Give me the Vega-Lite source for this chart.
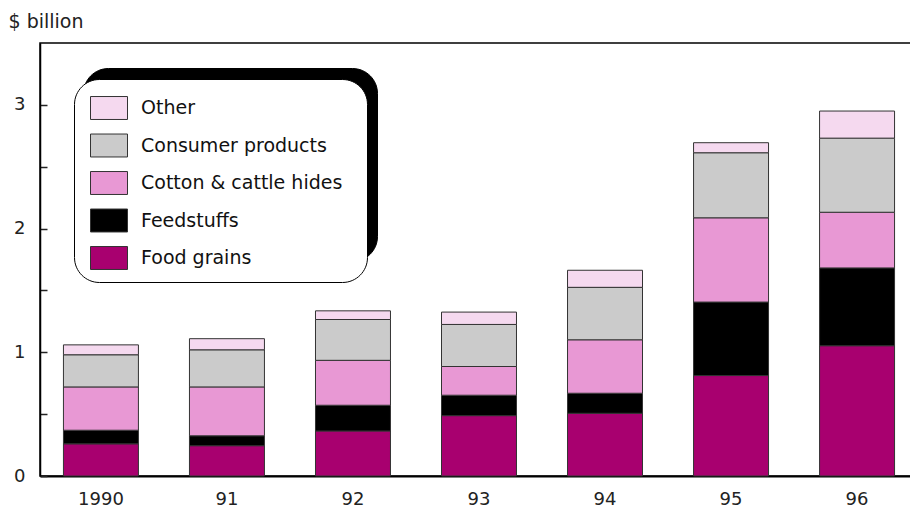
{
  "$schema": "https://vega.github.io/schema/vega-lite/v6.json",
  "autosize": "none",
  "width": 878,
  "height": 433,
  "padding": {"left": 40, "top": 43, "right": 0, "bottom": 35},
  "background": "white",
  "config": {
    "view": {"stroke": "black", "strokeWidth": 1.5},
    "font": "DejaVu Sans",
    "axis": {"labelFont": "DejaVu Sans", "labelFontSize": 18, "labelColor": "#222", "domainColor": "black", "tickColor": "#222", "grid": false}
  },
  "data": {
    "values": [
      {"year": "1990", "cat": "Food grains", "cat2": "Food grains s", "o": 1, "value": 0.26},
      {"year": "1990", "cat": "Feedstuffs", "cat2": "Feedstuffs s", "o": 2, "value": 0.11},
      {"year": "1990", "cat": "Cotton & cattle hides", "cat2": "Cotton & cattle hides s", "o": 3, "value": 0.35},
      {"year": "1990", "cat": "Consumer products", "cat2": "Consumer products s", "o": 4, "value": 0.26},
      {"year": "1990", "cat": "Other", "cat2": "Other s", "o": 5, "value": 0.08},
      {"year": "91", "cat": "Food grains", "cat2": "Food grains s", "o": 1, "value": 0.245},
      {"year": "91", "cat": "Feedstuffs", "cat2": "Feedstuffs s", "o": 2, "value": 0.08},
      {"year": "91", "cat": "Cotton & cattle hides", "cat2": "Cotton & cattle hides s", "o": 3, "value": 0.395},
      {"year": "91", "cat": "Consumer products", "cat2": "Consumer products s", "o": 4, "value": 0.30},
      {"year": "91", "cat": "Other", "cat2": "Other s", "o": 5, "value": 0.09},
      {"year": "92", "cat": "Food grains", "cat2": "Food grains s", "o": 1, "value": 0.364},
      {"year": "92", "cat": "Feedstuffs", "cat2": "Feedstuffs s", "o": 2, "value": 0.208},
      {"year": "92", "cat": "Cotton & cattle hides", "cat2": "Cotton & cattle hides s", "o": 3, "value": 0.363},
      {"year": "92", "cat": "Consumer products", "cat2": "Consumer products s", "o": 4, "value": 0.33},
      {"year": "92", "cat": "Other", "cat2": "Other s", "o": 5, "value": 0.07},
      {"year": "93", "cat": "Food grains", "cat2": "Food grains s", "o": 1, "value": 0.488},
      {"year": "93", "cat": "Feedstuffs", "cat2": "Feedstuffs s", "o": 2, "value": 0.165},
      {"year": "93", "cat": "Cotton & cattle hides", "cat2": "Cotton & cattle hides s", "o": 3, "value": 0.232},
      {"year": "93", "cat": "Consumer products", "cat2": "Consumer products s", "o": 4, "value": 0.34},
      {"year": "93", "cat": "Other", "cat2": "Other s", "o": 5, "value": 0.10},
      {"year": "94", "cat": "Food grains", "cat2": "Food grains s", "o": 1, "value": 0.507},
      {"year": "94", "cat": "Feedstuffs", "cat2": "Feedstuffs s", "o": 2, "value": 0.162},
      {"year": "94", "cat": "Cotton & cattle hides", "cat2": "Cotton & cattle hides s", "o": 3, "value": 0.432},
      {"year": "94", "cat": "Consumer products", "cat2": "Consumer products s", "o": 4, "value": 0.424},
      {"year": "94", "cat": "Other", "cat2": "Other s", "o": 5, "value": 0.138},
      {"year": "95", "cat": "Food grains", "cat2": "Food grains s", "o": 1, "value": 0.812},
      {"year": "95", "cat": "Feedstuffs", "cat2": "Feedstuffs s", "o": 2, "value": 0.594},
      {"year": "95", "cat": "Cotton & cattle hides", "cat2": "Cotton & cattle hides s", "o": 3, "value": 0.681},
      {"year": "95", "cat": "Consumer products", "cat2": "Consumer products s", "o": 4, "value": 0.526},
      {"year": "95", "cat": "Other", "cat2": "Other s", "o": 5, "value": 0.081},
      {"year": "96", "cat": "Food grains", "cat2": "Food grains s", "o": 1, "value": 1.053},
      {"year": "96", "cat": "Feedstuffs", "cat2": "Feedstuffs s", "o": 2, "value": 0.629},
      {"year": "96", "cat": "Cotton & cattle hides", "cat2": "Cotton & cattle hides s", "o": 3, "value": 0.45},
      {"year": "96", "cat": "Consumer products", "cat2": "Consumer products s", "o": 4, "value": 0.599},
      {"year": "96", "cat": "Other", "cat2": "Other s", "o": 5, "value": 0.219}
    ]
  },
  "mark": {"type": "bar", "strokeWidth": 1},
  "encoding": {
    "x": {
      "field": "year", "type": "nominal", "sort": null,
      "scale": {"paddingInner": 0.405, "paddingOuter": 0.186},
      "axis": {"title": null, "labelAngle": 0, "tickSize": -7, "labelPadding": 21, "domainWidth": 2, "tickWidth": 1.5}
    },
    "y": {
      "field": "value", "type": "quantitative", "stack": "zero",
      "scale": {"domain": [0, 3.5], "nice": false},
      "axis": {
        "title": "$ billion", "titleAngle": 0, "titleAlign": "left", "titleBaseline": "alphabetic",
        "titleX": -32, "titleY": -16, "titleFont": "DejaVu Sans", "titleFontSize": 19, "titleFontWeight": "normal", "titleColor": "#222",
        "values": [0, 0.5, 1, 1.5, 2, 2.5, 3],
        "labelExpr": "datum.value % 1 === 0 ? format(datum.value, 'd') : ''",
        "tickSize": -7, "labelPadding": 22, "domainWidth": 1.5, "tickWidth": 1.5
      }
    },
    "order": {"field": "o", "type": "quantitative", "sort": "ascending"},
    "fill": {
      "field": "cat", "type": "nominal",
      "scale": {
        "domain": ["Other", "Consumer products", "Cotton & cattle hides", "Feedstuffs", "Food grains"],
        "range": ["#F5D9EF", "#CBCBCB", "#E898D4", "#000000", "#A8006F"]
      },
      "legend": {
        "title": null, "orient": "none", "legendX": 34, "legendY": 36, "zindex": 2,
        "fillColor": "white", "strokeColor": "black", "cornerRadius": 25, "padding": 10, "symbolOffset": 6,
        "rowPadding": 4.5, "symbolType": "M-1,-0.62H1V0.62H-1Z", "symbolSize": 1369,
        "symbolStrokeColor": "#333", "symbolStrokeWidth": 1, "symbolOpacity": 1,
        "labelFont": "DejaVu Sans", "labelFontSize": 19, "labelOffset": 13, "labelColor": "#111", "labelLimit": 400,
        "labelExpr": "datum.label + '\u2800'"
      }
    },
    "stroke": {
      "field": "cat2", "type": "nominal",
      "scale": {
        "domain": ["Other s", "Consumer products s", "Cotton & cattle hides s", "Feedstuffs s", "Food grains s"],
        "range": ["#333333", "#333333", "#333333", "#333333", "#333333"]
      },
      "legend": {
        "title": null, "orient": "none", "legendX": 43, "legendY": 25, "zindex": 1,
        "fillColor": "black", "strokeColor": "black", "cornerRadius": 25, "padding": 10, "symbolOffset": 6,
        "rowPadding": 4.5, "symbolType": "M-1,-0.62H1V0.62H-1Z", "symbolSize": 1369,
        "symbolOpacity": 0, "labelOpacity": 0,
        "labelFont": "DejaVu Sans", "labelFontSize": 19, "labelOffset": 13, "labelColor": "black", "labelLimit": 400,
        "labelExpr": "replace(datum.label, ' s', '') + '\u2800'"
      }
    }
  }
}
